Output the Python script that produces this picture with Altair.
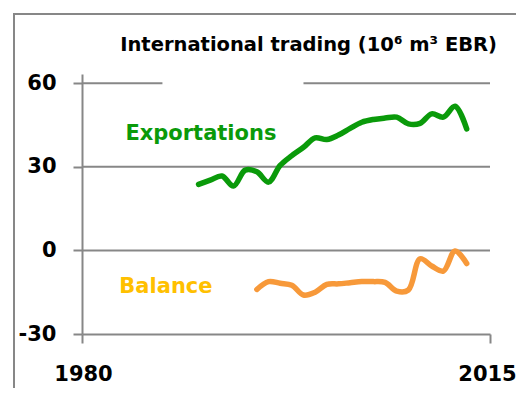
import altair as alt
import pandas as pd

# ---- data ----
export_years = list(range(1990, 2014))
export_values = [23.7, 25.2, 26.7, 23.1, 28.8, 28.2, 24.5, 30.5, 34.0, 37.0,
                 40.4, 39.8, 41.4, 43.8, 46.0, 47.0, 47.5, 47.8, 45.4, 45.6,
                 49.0, 47.8, 51.7, 43.6]
balance_years = list(range(1995, 2014))
balance_values = [-14.0, -11.2, -11.8, -12.5, -16.0, -15.0, -12.2, -12.0, -11.6,
                  -11.2, -11.2, -11.5, -14.6, -14.2, -3.0, -5.6, -7.4, -0.2, -4.7]

series_names = ["Exportations", "Balance"]
line_colors = ["#0A9A0A", "#F7993A"]
label_colors = ["#0A9A0A", "#FFC000"]
label_x = [1990.2, 1987.2]
label_y = [39.6, -15.4]

y_ticks = [-30, 0, 30, 60]
x_ticks = [1980, 2015]
grid_y = [60, 60, 30, 0]
grid_x0 = [1980, 1999.0, 1980, 1980]
grid_x1 = [1986.9, 2015, 2015, 2015]

title_text = "International trading (10\u2076 m\u00b3 EBR)"

# ---- tables ----
lines_df = pd.DataFrame(
    {"year": export_years + balance_years,
     "value": export_values + balance_values,
     "series": ["Exportations"] * len(export_years) + ["Balance"] * len(balance_years)}
)
labels_df = pd.DataFrame({"series": series_names, "year": label_x, "value": label_y})
grid_df = pd.DataFrame({"y": grid_y, "x0": grid_x0, "x1": grid_x1})

GRAY = "#878787"
FONT = "DejaVu Sans"

xscale = alt.Scale(domain=[1980, 2015], nice=False, zero=False)
yscale = alt.Scale(domain=[-30, 63.3], nice=False, zero=False)

xaxis = alt.Axis(values=x_ticks, title=None, grid=False,
                 labelExpr="'' + datum.value",
                 labelFont=FONT, labelFontWeight="bold", labelFontSize=21,
                 labelColor="black", tickSize=9, labelPadding=20,
                 labelOffset=alt.ExprRef("datum.value == 2015 ? -3 : 1"),
                 domainColor=GRAY, domainWidth=2, tickColor=GRAY, tickWidth=2,
                 labelFlush=False, labelOverlap=False)
yaxis = alt.Axis(values=y_ticks, title=None, grid=False,
                 labelExpr="'' + datum.value",
                 labelFont=FONT, labelFontWeight="bold", labelFontSize=21,
                 labelColor="black", tickSize=9, labelPadding=17,
                 domainColor=GRAY, domainWidth=2, tickColor=GRAY, tickWidth=2,
                 labelFlush=False, labelOverlap=False)

grid = alt.Chart(grid_df).mark_rule(color=GRAY, strokeWidth=2).encode(
    x=alt.X("x0:Q", scale=xscale, axis=xaxis),
    x2="x1:Q",
    y=alt.Y("y:Q", scale=yscale, axis=yaxis),
)

lines = alt.Chart(lines_df).mark_line(
    strokeWidth=5.5, strokeCap="round", strokeJoin="round", interpolate="catmull-rom"
).encode(
    x=alt.X("year:Q", scale=xscale, axis=xaxis),
    y=alt.Y("value:Q", scale=yscale, axis=yaxis),
    color=alt.Color("series:N", scale=alt.Scale(domain=series_names, range=line_colors), legend=None),
    detail="series:N",
)

labels = alt.Chart(labels_df).mark_text(
    font=FONT, fontWeight="bold", fontSize=21, align="center", baseline="alphabetic"
).encode(
    x=alt.X("year:Q", scale=xscale, axis=xaxis),
    y=alt.Y("value:Q", scale=yscale, axis=yaxis),
    text="series:N",
    color=alt.Color("series:N", scale=alt.Scale(domain=series_names, range=label_colors), legend=None),
)

title = alt.Chart(pd.DataFrame({"t": [title_text]})).mark_text(
    font=FONT, fontWeight="bold", fontSize=19.5, align="right", baseline="alphabetic", color="black"
).encode(text="t:N", x=alt.value(415), y=alt.value(-23))

# chart border (decoration): left edge and top edge
frame_left = alt.Chart(pd.DataFrame({"a": [0]})).mark_rule(
    color=GRAY, strokeWidth=2
).encode(
    x=alt.value(-68), y=alt.value(-61), y2=alt.value(340)
)
frame_top = alt.Chart(pd.DataFrame({"a": [0]})).mark_rule(
    color=GRAY, strokeWidth=2
).encode(
    x=alt.X(datum=1974.1, scale=xscale, axis=xaxis),
    x2=alt.X2(datum=2021),
    y=alt.value(-60),
)

chart = alt.layer(frame_left, frame_top, grid, lines, labels, title).resolve_scale(
    color="independent"
).properties(
    width=408, height=260,
    autosize=alt.AutoSizeParams(type="none"),
    padding={"left": 74, "top": 66, "right": 26, "bottom": 54},
).configure_view(stroke=None)

chart.save("out.html", embed_options={"renderer": "svg", "actions": False})
